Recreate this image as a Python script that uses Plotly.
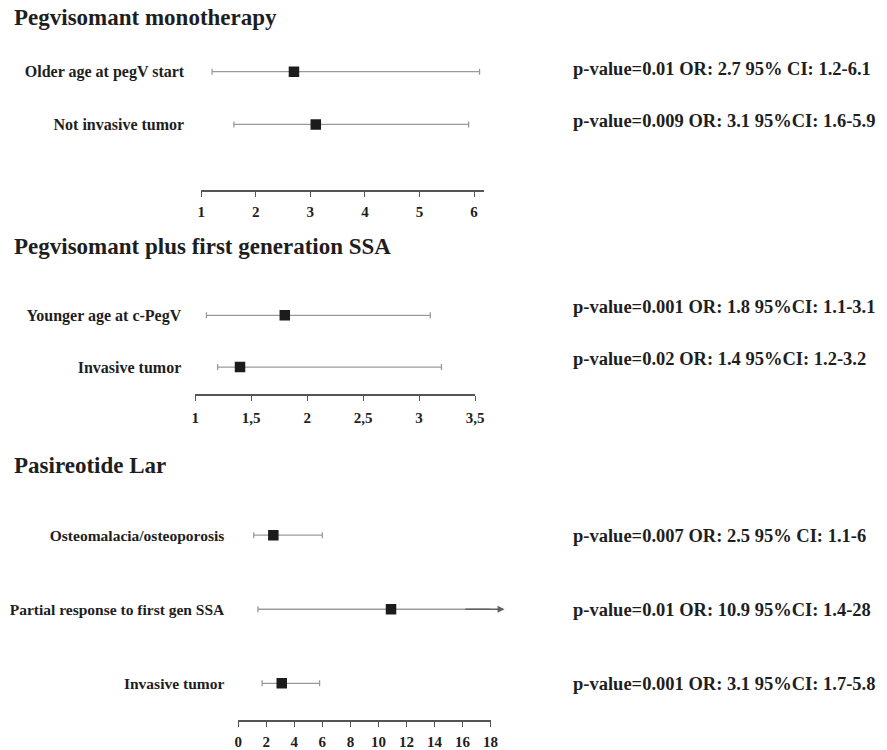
import plotly.graph_objects as go

# ---------------- data ----------------
p1_title = "Pegvisomant monotherapy"
p1_labels = ["Older age at pegV start", "Not invasive tumor"]
p1_or = [2.7, 3.1]
p1_lo = [1.2, 1.6]
p1_hi = [6.1, 5.9]
p1_stats = ["p-value=0.01 OR: 2.7 95% CI: 1.2-6.1",
            "p-value=0.009 OR: 3.1 95%CI: 1.6-5.9"]
p1_ticks = [1, 2, 3, 4, 5, 6]
p1_ticktext = ["1", "2", "3", "4", "5", "6"]

p2_title = "Pegvisomant plus first generation SSA"
p2_labels = ["Younger age at c-PegV", "Invasive tumor"]
p2_or = [1.8, 1.4]
p2_lo = [1.1, 1.2]
p2_hi = [3.1, 3.2]
p2_stats = ["p-value=0.001 OR: 1.8 95%CI: 1.1-3.1",
            "p-value=0.02 OR: 1.4 95%CI: 1.2-3.2"]
p2_ticks = [1, 1.5, 2, 2.5, 3, 3.5]
p2_ticktext = ["1", "1,5", "2", "2,5", "3", "3,5"]

p3_title = "Pasireotide Lar"
p3_labels = ["Osteomalacia/osteoporosis", "Partial response to first gen SSA", "Invasive tumor"]
p3_or = [2.5, 10.9, 3.1]
p3_lo = [1.1, 1.4, 1.7]
p3_hi = [6, 28, 5.8]
p3_stats = ["p-value=0.007 OR: 2.5 95% CI: 1.1-6",
            "p-value=0.01 OR: 10.9 95%CI: 1.4-28",
            "p-value=0.001 OR: 3.1 95%CI: 1.7-5.8"]
p3_ticks = [0, 2, 4, 6, 8, 10, 12, 14, 16, 18]
p3_ticktext = [str(t) for t in p3_ticks]

# ---------------- styling ----------------
OFF = 8                      # page body margin of the browser
W, H = 887 - OFF, 750 - OFF  # figure size that fits the window
SERIF = "Liberation Serif, Times New Roman, serif"
TXT = "#1e1e1e"
BAR = "#9a9a9a"
AX = "#555555"


def px_x(v):
    return (v - OFF) / W


def px_y(v):
    return 1 - (v - OFF) / H


panels = [
    dict(title=p1_title, labels=p1_labels, orv=p1_or, lo=p1_lo, hi=p1_hi, stats=p1_stats,
         ticks=p1_ticks, ticktext=p1_ticktext, lab_size=16,
         xpx=(200, 487), xrange=[1, 6.18], ypx=(40, 191), yrange=[-1.245, 1.604],
         title_y=18, stat_shift=3, ystand=16, xstand=2),
    dict(title=p2_title, labels=p2_labels, orv=p2_or, lo=p2_lo, hi=p2_hi, stats=p2_stats,
         ticks=p2_ticks, ticktext=p2_ticktext, lab_size=16,
         xpx=(194, 478), xrange=[1, 3.5], ypx=(280, 396), yrange=[-0.519, 1.712],
         title_y=248, stat_shift=8, ystand=13, xstand=4),
    dict(title=p3_title, labels=p3_labels, orv=p3_or, lo=p3_lo, hi=p3_hi, stats=p3_stats,
         ticks=p3_ticks, ticktext=p3_ticktext, lab_size=15.5,
         xpx=(237.7, 493.7), xrange=[0, 18], ypx=(500, 724), yrange=[-0.497, 2.51],
         title_y=468, stat_shift=-1, ystand=13, xstand=2),
]

fig = go.Figure()
annotations = []
layout = {}

for k, p in enumerate(panels, start=1):
    n = len(p["labels"])
    ys = list(range(n - 1, -1, -1))
    xs = "" if k == 1 else str(k)
    xname = "x" + xs
    yname = "y" + xs
    err_plus = [h - o for h, o in zip(p["hi"], p["orv"])]
    err_minus = [o - l for o, l in zip(p["orv"], p["lo"])]
    fig.add_trace(go.Scatter(
        x=p["orv"], y=ys, mode="markers", xaxis=xname, yaxis=yname,
        marker=dict(symbol="square", size=10.5, color="#1c1c1c",
                    line=dict(color="#1c1c1c", width=0)),
        error_x=dict(type="data", symmetric=False, array=err_plus, arrayminus=err_minus,
                     color=BAR, thickness=1.3, width=3),
        showlegend=False, hoverinfo="x+y",
    ))
    xd = [px_x(p["xpx"][0]), px_x(p["xpx"][1])]
    yd = [px_y(p["ypx"][1]), px_y(p["ypx"][0])]
    layout["xaxis" + xs] = dict(
        domain=xd, range=p["xrange"], anchor=yname, showgrid=False, zeroline=False,
        showline=True, linecolor=AX, linewidth=1.5,
        ticks="outside", ticklen=5, tickwidth=1.2, tickcolor=AX,
        tickvals=p["ticks"], ticktext=p["ticktext"], ticklabelstandoff=p["xstand"],
        tickfont=dict(family=SERIF, size=15, color=TXT, weight="bold"),
    )
    # overlay axis so the ticks cross the axis line
    ov = str(k + 3)
    layout["xaxis" + ov] = dict(
        domain=xd, matches=xname, overlaying=xname, anchor=yname, side="bottom",
        showgrid=False, zeroline=False, showline=False,
        ticks="inside", ticklen=4, tickwidth=1.2, tickcolor=AX,
        tickvals=p["ticks"], showticklabels=False,
    )
    layout["yaxis" + xs] = dict(
        domain=yd, range=p["yrange"], anchor=xname, showgrid=False, zeroline=False,
        showline=False, ticks="", tickvals=ys, ticktext=p["labels"],
        ticklabelstandoff=p["ystand"],
        tickfont=dict(family=SERIF, size=p["lab_size"], color=TXT, weight="bold"),
    )
    annotations.append(dict(
        text=p["title"], xref="paper", yref="paper", x=px_x(14) - 6 / W, y=px_y(p["title_y"]),
        xanchor="left", yanchor="middle", showarrow=False,
        font=dict(family=SERIF, size=23, color=TXT, weight="bold"),
    ))
    for yv, s in zip(ys, p["stats"]):
        annotations.append(dict(
            text=s, xref="paper", yref=yname, x=px_x(573) + 2 / W, y=yv, yshift=p["stat_shift"],
            xanchor="left", yanchor="middle", showarrow=False,
            font=dict(family=SERIF, size=18.5, color=TXT, weight="bold"),
        ))

# arrow: the CI of the second Pasireotide row runs beyond the axis
annotations.append(dict(
    xref="x3", yref="y3", x=19.0, y=1, axref="x3", ayref="y3", ax=16.1, ay=1,
    showarrow=True, arrowhead=2, arrowsize=1, arrowwidth=1.4, arrowcolor="#606060", text="",
))

fig.update_layout(
    width=W, height=H, margin=dict(l=0, r=0, t=0, b=0),
    paper_bgcolor="white", plot_bgcolor="white",
    annotations=annotations, showlegend=False, **layout,
)

fig.write_html("out.html")
